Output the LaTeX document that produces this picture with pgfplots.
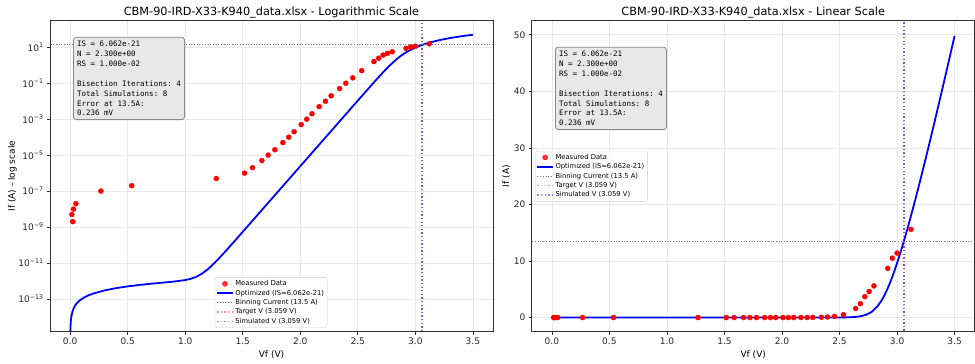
\documentclass[border=0pt]{standalone}
\usepackage{fontspec}
\setmainfont{DejaVu Sans}
\setmonofont{DejaVu Sans Mono}
\usepackage{pgfplots}
\pgfplotsset{compat=1.18}
\usepackage{pgfplotstable}

\pgfplotstableread{
V I
0.015 5e-9
0.023 2e-9
0.029 1e-8
0.050 2e-8
0.267 1e-7
0.535 2e-7
1.270 5e-7
1.516 1e-6
1.584 2e-6
1.666 5e-6
1.721 1e-5
1.779 2e-5
1.849 5e-5
1.900 1e-4
1.946 2e-4
2.008 5e-4
2.056 1e-3
2.102 2e-3
2.164 5e-3
2.219 0.01
2.268 0.02
2.342 0.05
2.395 0.1
2.456 0.2
2.534 0.5
2.640 1.6
2.681 2.45
2.720 3.7
2.757 4.6
2.799 5.6
2.919 8.7
2.959 10.5
3.000 11.4
3.121 15.6
}\measured

\pgfplotstableread{
V I
0.001 1e-15
0.003 3e-15
0.006 6e-15
0.01 1e-14
0.02 2e-14
0.035 3.5e-14
0.05 5e-14
0.075 7.5e-14
0.1 1e-13
0.15 1.5e-13
0.2 2e-13
0.3 3e-13
0.4 4e-13
0.5 5e-13
0.6 6e-13
0.7 7.01e-13
0.8 8.04e-13
0.9 9.23e-13
1.0 1.121e-12
1.05 1.331e-12
1.1 1.752e-12
1.15 2.661e-12
1.2 4.70e-12
1.25 9.36e-12
1.3 2.009e-11
1.35 4.49e-11
1.4 1.024e-10
1.45 2.342e-10
1.5 5.44e-10
1.6 2.912e-9
1.7 1.565e-8
1.8 8.40e-8
1.9 4.515e-7
2.0 2.425e-6
2.1 1.302e-5
2.2 6.997e-5
2.3 3.758e-4
2.4 2.019e-3
2.4953 0.01
2.5366 0.02
2.5915 0.05
2.6332 0.1
2.6754 0.2
2.7329 0.5
2.7792 1
2.8304 2
2.8645 3
2.8916 4
2.9149 5
2.9357 6
2.9549 7
2.9728 8
3.0061 10
3.0370 12
3.0590 13.5
3.0802 15
3.1144 17.5
3.1474 20
3.1794 22.5
3.2106 25
3.2413 27.5
3.2715 30
3.3306 35
3.3886 40
3.4456 45
3.5 49.83
}\model

\definecolor{gridc}{HTML}{E8E8E8}
\definecolor{spinec}{HTML}{333333}
\definecolor{boxfill}{HTML}{E8E8E8}
\definecolor{boxedge}{HTML}{8A8A8A}

\tikzset{
  infobox/.style={draw=boxedge, fill=boxfill, rounded corners=3pt, line width=0.9pt, inner sep=4pt,
    align=left, font=\fontsize{8.3}{11}\ttfamily, anchor=north west},
}

\pgfplotsset{
  common/.style={
    scale only axis, width=490.7pt, height=344.5pt,
    xmin=-0.175, xmax=3.675,
    xtick={0,0.5,1,1.5,2,2.5,3,3.5},
    xticklabel style={/pgf/number format/.cd, fixed, fixed zerofill, precision=1, assume math mode=true},
    yticklabel style={/pgf/number format/assume math mode=true},
    tick label style={font=\fontsize{10}{12}\selectfont, color=black!85},
    label style={font=\fontsize{10}{12}\selectfont},
    title style={font=\fontsize{12.5}{15}\selectfont, yshift=-7pt},
    axis line style={spinec, line width=0.8pt},
    tick style={spinec, line width=0.8pt},
    tick align=outside, major tick length=3.5pt,
    xtick pos=bottom, ytick pos=left,
    grid=major, major grid style={gridc, line width=0.7pt},
    minor tick num=0,
    clip=true,
    xlabel={Vf (V)},
    legend cell align=left,
    legend style={font=\fontsize{7.5}{9}\selectfont, fill=white, fill opacity=0.8, text opacity=1,
      draw=black!20, rounded corners=2pt, inner sep=1.5pt, row sep=-0.8pt},
  },
  meas/.style={only marks, mark=*, mark size=2.8pt, color=red, mark options={fill=red, draw=red}},
  modl/.style={no marks, color=blue, line width=2pt},
  binl/.style={no marks, color=black!55, line width=1.1pt, dash pattern=on 1.1pt off 1.9pt},
  targl/.style={no marks, color=red, opacity=0.45, line width=1.5pt, dash pattern=on 1.5pt off 2.5pt},
  siml/.style={no marks, color=blue, opacity=0.45, line width=1.5pt, dash pattern=on 1.5pt off 2.5pt},
}

\newcommand{\infotext}{IS = 6.062e-21\\N = 2.300e+00\\RS = 1.000e-02\\[11pt]Bisection Iterations: 4\\Total Simulations: 8\\Error at 13.5A:\\0.236 mV}

\begin{document}
\begin{tikzpicture}
\path[use as bounding box] (0,0) rectangle (1080pt,402.1pt);

\begin{axis}[common, at={(55.4pt,34.7pt)}, anchor=south west,
  ymode=log, ymin=1.51e-15, ymax=302,
  ytick={1e-13,1e-11,1e-9,1e-7,1e-5,1e-3,1e-1,1e1},
  yticklabels={10\textsuperscript{−13},10\textsuperscript{−11},10\textsuperscript{−9},10\textsuperscript{−7},10\textsuperscript{−5},10\textsuperscript{−3},10\textsuperscript{−1},10\textsuperscript{1}},
  ylabel={If (A) - log scale},
  ylabel style={yshift=-5pt},
  title={CBM-90-IRD-X33-K940\_data.xlsx - Logarithmic Scale},
  legend style={at={(0.372,0.012)}, anchor=south west},
]
\addplot[meas] table[x=V, y=I] {\measured};
\addlegendentry{Measured Data}
\addplot[modl] table[x=V, y=I] {\model};
\addlegendentry{Optimized (IS=6.062e-21)}
\addplot[binl] coordinates {(-0.5,13.5) (4,13.5)};
\addlegendentry{Binning Current (13.5 A)}
\addplot[targl] coordinates {(3.059,1e-16) (3.059,1e3)};
\addlegendentry{Target V (3.059 V)}
\addplot[siml] coordinates {(3.059,1e-16) (3.059,1e3)};
\addlegendentry{Simulated V (3.059 V)}
\node[infobox] at (rel axis cs:0.052,0.948) {\infotext};
\end{axis}

\begin{axis}[common, at={(589.0pt,34.7pt)}, anchor=south west,
  ymin=-2.5, ymax=52.5,
  ytick={0,10,20,30,40,50},
  ylabel={If (A)},
  ylabel style={yshift=-3pt},
  title={CBM-90-IRD-X33-K940\_data.xlsx - Linear Scale},
  legend style={at={(0.0074,0.5)}, anchor=west},
]
\addplot[meas] table[x=V, y=I] {\measured};
\addlegendentry{Measured Data}
\addplot[modl] table[x=V, y=I] {\model};
\addlegendentry{Optimized (IS=6.062e-21)}
\addplot[binl] coordinates {(-0.5,13.5) (4,13.5)};
\addlegendentry{Binning Current (13.5 A)}
\addplot[targl] coordinates {(3.059,-10) (3.059,60)};
\addlegendentry{Target V (3.059 V)}
\addplot[siml] coordinates {(3.059,-10) (3.059,60)};
\addlegendentry{Simulated V (3.059 V)}
\node[infobox] at (rel axis cs:0.0526,0.916) {\infotext};
\end{axis}
\end{tikzpicture}
\end{document}
